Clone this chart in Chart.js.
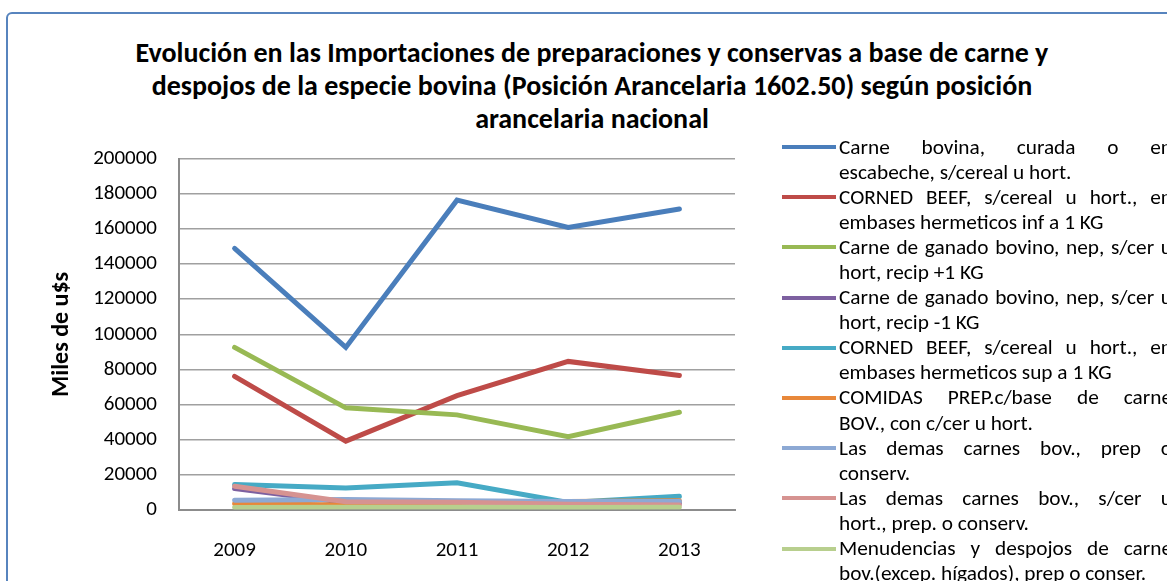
<!DOCTYPE html>
<html lang="es">
<head>
  <meta charset="UTF-8">
  <title>Importaciones 1602.50</title>
  <style>
    body {
      margin: 0;
      width: 1167px;
      height: 581px;
      overflow: hidden;
      background: #fff;
      font-family: Carlito, Calibri, Lato, sans-serif;
      position: relative;
    }
    .frame {
      position: absolute;
      left: 6px;
      top: 12px;
      width: 1240px;
      height: 640px;
      border: 2px solid #5784BE;
      border-radius: 6px;
    }
    .title {
      position: absolute;
      left: 92px;
      width: 1000px;
      top: 35.5px;
      text-align: center;
      font-weight: bold;
      font-size: 28px;
      line-height: 33px;
      color: #000;
    }
    #chart {
      position: absolute;
      left: 0;
      top: 0;
    }
    .legend {
      position: absolute;
      left: 782px;
      top: 134.5px;
      font-size: 21.3px;
      line-height: 25.1px;
      color: #000;
    }
    .item {
      position: relative;
      height: 50.2px;
    }
    .mark {
      position: absolute;
      left: 0;
      top: 10.5px;
      width: 54px;
      height: 4px;
    }
    .line1 {
      margin-left: 57px;
      width: 333px;
      display: flex;
      justify-content: space-between;
      white-space: nowrap;
    }
    .line2 {
      margin-left: 57px;
      white-space: nowrap;
    }
  </style>
</head>
<body>
  <div class="frame"></div>
  <div class="title">Evolución en las Importaciones de preparaciones y conservas a base de carne y<br>despojos de la especie bovina (Posición Arancelaria 1602.50) según posición<br>arancelaria nacional</div>
  <canvas id="chart" width="1167" height="581"></canvas>
  <div class="legend" id="legend"></div>

  <script src="https://cdn.jsdelivr.net/npm/chart.js"></script>
  <script>
    // Categories and series (miles de u$s)
    const years = ['2009', '2010', '2011', '2012', '2013'];

    const carneBovinaCurada = [149000, 92500, 176500, 161000, 171500];
    const cornedBeefInf1Kg = [76000, 39000, 65000, 84500, 76500];
    const ganadoRecipMas1Kg = [92500, 58000, 54000, 41500, 55500];
    const ganadoRecipMenos1Kg = [12000, 4000, 3500, 4500, 3500];
    const cornedBeefSup1Kg = [14200, 12300, 15200, 4000, 7500];
    const comidasPrep = [3400, 2500, 2500, 4500, 5000];
    const demasPrepConserv = [5300, 5700, 5000, 4500, 4500];
    const demasSinCer = [13300, 4400, 4200, 3000, 2500];
    const menudencias = [1200, 1300, 1300, 1200, 1300];

    // legend labels, as shown on two lines
    const seriesLabels = [
      ['Carne bovina, curada o en', 'escabeche, s/cereal u hort.'],
      ['CORNED BEEF, s/cereal u hort., en', 'embases hermeticos inf a 1 KG'],
      ['Carne de ganado bovino, nep, s/cer u', 'hort, recip +1 KG'],
      ['Carne de ganado bovino, nep, s/cer u', 'hort, recip -1 KG'],
      ['CORNED BEEF, s/cereal u hort., en', 'embases hermeticos sup a 1 KG'],
      ['COMIDAS PREP.c/base de carne', 'BOV., con c/cer u hort.'],
      ['Las demas carnes bov., prep o', 'conserv.'],
      ['Las demas carnes bov., s/cer u', 'hort., prep. o conserv.'],
      ['Menudencias y despojos de carne', 'bov.(excep. hígados), prep o conser.']
    ];

    const seriesData = [carneBovinaCurada, cornedBeefInf1Kg, ganadoRecipMas1Kg, ganadoRecipMenos1Kg,
      cornedBeefSup1Kg, comidasPrep, demasPrepConserv, demasSinCer, menudencias];

    const colors = ['#4A7EBB', '#BE4B48', '#98B954', '#7D60A0', '#46AAC5',
      '#E8883A', '#8DA9D4', '#D69391', '#B8CF8E'];

    const yTicks = [0, 20000, 40000, 60000, 80000, 100000, 120000, 140000, 160000, 180000, 200000];

    const fontFam = 'Carlito, Calibri, Lato, sans-serif';

    const datasets = seriesData.map((d, i) => ({
      label: seriesLabels[i].join(' '),
      data: d,
      borderColor: colors[i],
      backgroundColor: colors[i],
      borderWidth: 5,
      pointRadius: 0,
      tension: 0,
      borderCapStyle: 'round',
      order: seriesData.length - i  // later series drawn on top, like Excel
    }));

    const ctx = document.getElementById('chart').getContext('2d');
    const chart = new Chart(ctx, {
      type: 'line',
      data: { labels: years, datasets: datasets },
      options: {
        responsive: false,
        animation: false,
        layout: { padding: { left: 40, right: 432, top: 159, bottom: 0 } },
        plugins: {
          legend: { display: false },
          tooltip: { enabled: false }
        },
        scales: {
          x: {
            offset: true,
            grid: { display: false, offset: true },
            border: { display: true, color: '#8C8C8C', width: 2 },
            ticks: {
              color: '#000',
              padding: 21,
              font: { family: fontFam, size: 21 }
            },
            afterFit: (scale) => { scale.height = 71.5; }
          },
          y: {
            min: 0,
            max: 200000,
            afterBuildTicks: (scale) => { scale.ticks = yTicks.map(v => ({ value: v })); },
            grid: { color: '#A0A0A0', lineWidth: 1.5, drawTicks: false },
            border: { display: true, color: '#8C8C8C', width: 2 },
            ticks: {
              color: '#000',
              padding: 22,
              font: { family: fontFam, size: 21 },
              callback: (v) => String(v)
            },
            title: {
              display: true,
              text: 'Miles de u$s',
              color: '#000',
              font: { family: fontFam, size: 24, weight: 'bold' },
              padding: { top: 7.6, bottom: 0 }
            },
            afterFit: (scale) => { scale.width = 139; }
          }
        }
      }
    });

    // HTML legend, justified first line like the original
    const legendEl = document.getElementById('legend');
    seriesLabels.forEach((lines, i) => {
      const item = document.createElement('div');
      item.className = 'item';
      const mark = document.createElement('div');
      mark.className = 'mark';
      mark.style.background = colors[i];
      item.appendChild(mark);
      const l1 = document.createElement('div');
      l1.className = 'line1';
      lines[0].split(/\s+/).forEach(w => {
        const s = document.createElement('span');
        s.textContent = w;
        l1.appendChild(s);
      });
      item.appendChild(l1);
      const l2 = document.createElement('div');
      l2.className = 'line2';
      l2.textContent = lines[1];
      item.appendChild(l2);
      legendEl.appendChild(item);
    });
  </script>
</body>
</html>
